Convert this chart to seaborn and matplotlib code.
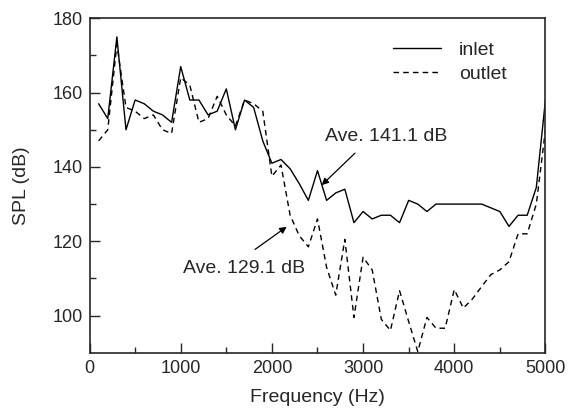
import numpy as np
import pandas as pd
import matplotlib
matplotlib.use('Agg')
import matplotlib.pyplot as plt
import seaborn as sns

# frequency bins (Hz) and SPL values (dB)
freq = list(range(100, 5001, 100))

inlet = [157, 153, 175, 150, 158, 157, 155, 154, 152, 167,
         158, 158, 154, 155, 161, 150, 158, 156, 147, 141,
         142, 139.5, 135.5, 131, 139, 131, 133, 134, 125, 128,
         126, 127, 127, 125, 131, 130, 128, 130, 130, 130,
         130, 130, 130, 129, 128, 124, 127, 127, 134.5, 158]

outlet = [147, 150, 173, 156, 155, 153, 154, 150, 149, 164,
          162, 152, 153, 159, 154, 151, 158, 157, 155, 137.5,
          140.5, 127, 121.5, 118.5, 126, 113, 105.5, 120.5, 99.5, 115.7,
          112.3, 99, 96, 106.7, 98.4, 90.3, 99.5, 96.6, 96.6, 107,
          102, 104.5, 107.8, 111, 112.3, 114.5, 122, 122, 130, 150]

labels = ['inlet', 'outlet']
notes = ['Ave. 141.1 dB', 'Ave. 129.1 dB']

df = pd.DataFrame({'Frequency': freq, 'inlet': inlet, 'outlet': outlet})

sns.set_style("ticks")
plt.rcParams['font.family'] = ['Liberation Sans', 'DejaVu Sans']
plt.rcParams['xtick.direction'] = 'in'
plt.rcParams['ytick.direction'] = 'in'

fig = plt.figure(figsize=(5.68, 4.15), dpi=100)
ax = fig.add_axes([0.1576, 0.150, 0.8027, 0.806])

sns.lineplot(data=df, x='Frequency', y='inlet', ax=ax, color='k',
             linewidth=1.0, label=labels[0])
sns.lineplot(data=df, x='Frequency', y='outlet', ax=ax, color='k',
             linewidth=1.0, linestyle=(0, (4, 3)), label=labels[1])

ax.set_xlim(0, 5000)
ax.set_ylim(90, 180)
ax.set_xticks(np.arange(0, 5001, 1000))
ax.set_xticks(np.arange(500, 5000, 1000), minor=True)
ax.set_yticks(np.arange(100, 181, 20))
ax.set_yticks(np.arange(110, 180, 20), minor=True)
ax.tick_params(which='major', length=7, width=1, labelsize=13, pad=5)
ax.tick_params(which='minor', length=4, width=1)
for s in ax.spines.values():
    s.set_linewidth(1.2)

ax.set_xlabel('Frequency (Hz)', fontsize=14, labelpad=9)
ax.set_ylabel('SPL (dB)', fontsize=14, labelpad=16)

ax.legend(frameon=False, fontsize=14, loc='upper left',
          bbox_to_anchor=(0.665, 0.93), borderpad=0, borderaxespad=0,
          handlelength=2.5, handletextpad=0.9, labelspacing=0.3)

arrow = dict(arrowstyle='-|>', color='k', lw=0.9, mutation_scale=10,
             shrinkA=0, shrinkB=0)
ax.annotate('', xy=(2546, 135.1), xytext=(2911, 143.7), arrowprops=arrow)
ax.text(2582, 148.1, notes[0], fontsize=14, va='center', ha='left')
ax.annotate('', xy=(2162, 123.9), xytext=(1815, 117.8), arrowprops=arrow)
ax.text(1029, 112.7, notes[1], fontsize=14, va='center', ha='left')

fig.savefig('out.png', dpi=100)
